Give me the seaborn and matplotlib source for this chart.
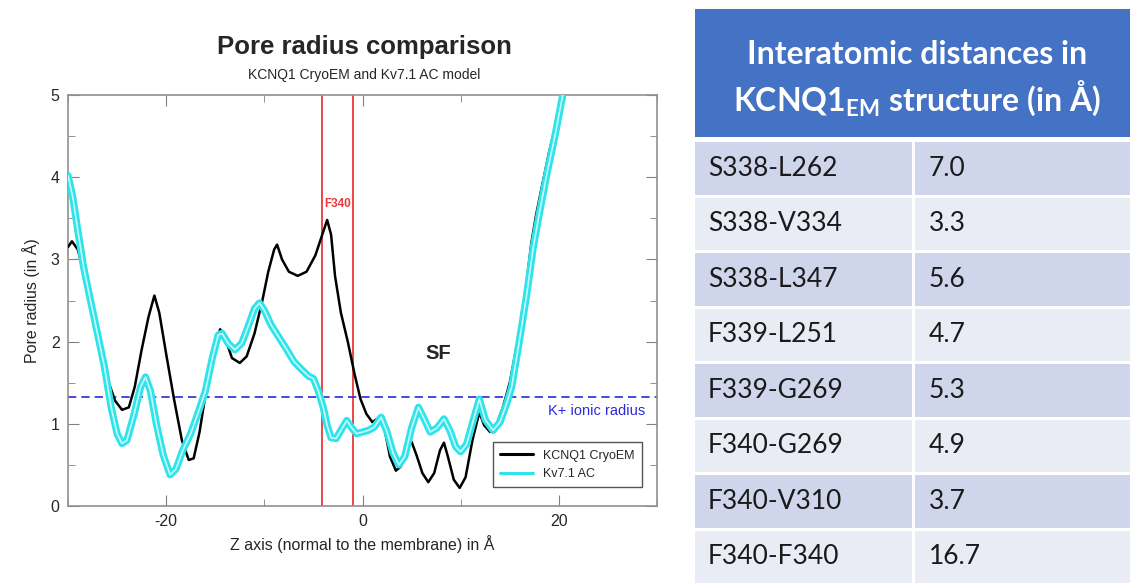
import pandas as pd
import seaborn as sns
import matplotlib.pyplot as plt
from matplotlib.lines import Line2D
from matplotlib.patches import Rectangle
from matplotlib.ticker import MultipleLocator

# pore radius profile (z in A, radius in A)
z_cryoem = [-30.0, -29.6, -29.0, -28.3, -27.6, -26.8, -26.0, -25.2, -24.5, -23.8,
            -23.2, -22.5, -21.8, -21.2, -20.7, -20.0, -19.2, -18.4, -17.7, -17.2,
            -16.6, -15.8, -15.0, -14.5, -14.0, -13.3, -12.5, -11.8, -11.0, -10.2,
            -9.6, -9.0, -8.7, -8.2, -7.5, -6.6, -5.7, -4.8, -4.1, -3.6,
            -3.2, -2.8, -2.2, -1.5, -0.8, -0.2, 0.4, 1.0, 1.5, 1.9,
            2.3, 2.8, 3.4, 3.9, 4.5, 5.0, 5.5, 6.1, 6.7, 7.3,
            7.9, 8.3, 8.7, 9.3, 9.9, 10.5, 11.2, 11.9, 12.4, 13.0,
            13.6, 14.3, 15.0, 15.8, 16.5, 17.2, 17.7, 18.3, 19.0, 19.7, 20.4]
r_cryoem = [3.15, 3.22, 3.12, 2.80, 2.45, 1.95, 1.55, 1.28, 1.17, 1.20,
            1.45, 1.90, 2.30, 2.56, 2.35, 1.85, 1.30, 0.80, 0.56, 0.58,
            0.90, 1.50, 1.95, 2.15, 2.05, 1.80, 1.74, 1.82, 2.10, 2.50,
            2.85, 3.12, 3.18, 3.00, 2.85, 2.80, 2.85, 3.05, 3.30, 3.48,
            3.30, 2.80, 2.35, 2.00, 1.60, 1.30, 1.12, 1.02, 1.06, 1.10,
            0.90, 0.60, 0.43, 0.48, 0.70, 0.78, 0.62, 0.40, 0.29, 0.40,
            0.68, 0.77, 0.60, 0.32, 0.22, 0.35, 0.80, 1.14, 0.98, 0.90,
            0.97, 1.20, 1.50, 2.00, 2.50, 3.20, 3.55, 3.90, 4.30, 4.65, 5.00]

z_ac = [-30.0, -29.5, -29.0, -28.4, -27.8, -27.0, -26.3, -25.6, -25.0, -24.5,
        -24.0, -23.3, -22.6, -22.1, -21.6, -21.0, -20.3, -19.6, -19.0, -18.3,
        -17.5, -16.7, -16.0, -15.3, -14.7, -14.3, -13.7, -13.0, -12.3, -11.6,
        -11.0, -10.5, -10.0, -9.3, -8.5, -7.7, -7.0, -6.2, -5.5, -5.0,
        -4.5, -4.0, -3.6, -3.2, -2.7, -2.2, -1.6, -1.1, -0.6, 0.0,
        0.6, 1.2, 1.9, 2.5, 3.1, 3.7, 4.3, 5.0, 5.7, 6.2,
        6.9, 7.6, 8.3, 8.9, 9.5, 10.0, 10.6, 11.3, 11.9, 12.5,
        13.3, 14.0, 14.7, 15.2, 15.9, 16.7, 17.4, 18.0, 18.8, 19.6, 20.4]
r_ac = [4.02, 3.75, 3.35, 2.90, 2.55, 2.10, 1.70, 1.20, 0.88, 0.76,
        0.80, 1.10, 1.45, 1.57, 1.40, 1.00, 0.62, 0.38, 0.45, 0.68,
        0.88, 1.15, 1.40, 1.80, 2.08, 2.10, 1.98, 1.90, 1.98, 2.20,
        2.40, 2.47, 2.38, 2.20, 2.05, 1.90, 1.76, 1.66, 1.58, 1.55,
        1.40, 1.20, 0.98, 0.83, 0.82, 0.92, 1.04, 0.95, 0.88, 0.90,
        0.92, 0.96, 1.08, 0.90, 0.65, 0.50, 0.60, 0.95, 1.20, 1.08,
        0.90, 0.95, 1.06, 0.92, 0.72, 0.66, 0.75, 1.05, 1.30, 1.05,
        0.92, 1.02, 1.25, 1.45, 1.95, 2.55, 3.15, 3.55, 4.05, 4.50, 5.00]

k_ionic_radius = 1.33
f340_z = [-4.1, -1.0]

pairs = ['S338-L262', 'S338-V334', 'S338-L347', 'F339-L251',
         'F339-G269', 'F340-G269', 'F340-V310', 'F340-F340']
distances = ['7.0', '3.3', '5.6', '4.7', '5.3', '4.9', '3.7', '16.7']

sns.set_style("ticks")
plt.rcParams['font.family'] = ['Liberation Sans', 'DejaVu Sans']
plt.rcParams['mathtext.default'] = 'regular'
plt.rcParams['axes.unicode_minus'] = False

fig = plt.figure(figsize=(11.3, 5.84), dpi=100)
ax = fig.add_axes([68 / 1130, 78 / 584, 589 / 1130, 411 / 584])

em = pd.DataFrame({'z': z_cryoem, 'r': r_cryoem})
ac = pd.DataFrame({'z': z_ac, 'r': r_ac})

sns.lineplot(x='z', y='r', data=em, ax=ax, color='black', lw=1.8,
             sort=False, estimator=None, zorder=3, solid_joinstyle='round')
sns.lineplot(x='z', y='r', data=ac, ax=ax, color='#2ee3ea', lw=5.2,
             sort=False, estimator=None, zorder=4, solid_joinstyle='round')
# the AC trace is a double line with a pale centre
sns.lineplot(x='z', y='r', data=ac, ax=ax, color='#c8fbfc', lw=1.2,
             sort=False, estimator=None, zorder=5, solid_joinstyle='round')

for z in f340_z:
    ax.axvline(z, color='#e8393c', lw=1.3, zorder=2)
ax.axhline(k_ionic_radius, color='#2b2bd8', ls=(0, (5, 3)), lw=1.2, zorder=2)

ax.text(-2.55, 3.68, 'F340', color='#e8393c', fontsize=8.5, fontweight='bold',
        ha='center', va='center')
ax.text(7.7, 1.85, 'SF', fontsize=14.5, fontweight='bold', ha='center', va='center')
ax.text(23.8, 1.16, 'K+ ionic radius', color='#2b2bd8', fontsize=10.5,
        ha='center', va='center')

ax.set_xlim(-30, 30)
ax.set_ylim(0, 5)
ax.xaxis.set_major_locator(MultipleLocator(20))
ax.xaxis.set_minor_locator(MultipleLocator(10))
ax.yaxis.set_major_locator(MultipleLocator(1))
ax.yaxis.set_minor_locator(MultipleLocator(0.5))
ax.tick_params(which='both', direction='in', top=True, right=True,
               color='#808080', labelsize=11.5, pad=6)
ax.tick_params(which='major', length=8)
ax.tick_params(which='minor', length=5)
for s in ax.spines.values():
    s.set_color('#909090')
    s.set_linewidth(1.2)
ax.set_xlabel('Z axis (normal to the membrane) in Å', fontsize=11.5, labelpad=4)
ax.set_ylabel('Pore radius (in Å)', fontsize=11.5, labelpad=8)

handles = [Line2D([], [], color='black', lw=2.2),
           Line2D([], [], color='#2ee3ea', lw=2.2)]
leg = ax.legend(handles, ['KCNQ1 CryoEM', 'Kv7.1 AC'], loc='lower right',
                bbox_to_anchor=(0.985, 0.03), fontsize=9, frameon=True,
                fancybox=False, framealpha=1, borderpad=0.6, handlelength=2.6)
leg.get_frame().set_edgecolor('#555555')
leg.get_frame().set_linewidth(1.0)

fig.text(364 / 1130, 1 - 47 / 584, 'Pore radius comparison', ha='center',
         va='center', fontsize=18.5, fontweight='bold')
fig.text(364 / 1130, 1 - 75 / 584, 'KCNQ1 CryoEM and Kv7.1 AC model',
         ha='center', va='center', fontsize=10)

# distance table on the right, laid out in pixel units
tax = fig.add_axes([690 / 1130, 0, 440 / 1130, 1])
tax.set_xlim(690, 1130)
tax.set_ylim(584, 0)
tax.axis('off')
tfont = ['Lato', 'DejaVu Sans']

tax.add_patch(Rectangle((695, 9), 435, 128, color='#4472c4', lw=0))
tax.text(917, 54, 'Interatomic distances in', color='white', fontsize=23,
         fontweight='bold', ha='center', va='center', family=tfont)
tax.text(917, 98, r'KCNQ1$_{EM}$ structure (in Å)', color='white', fontsize=23,
         fontweight='bold', ha='center', va='center', family=tfont)

row_h = 55.5
for i, (p, d) in enumerate(zip(pairs, distances)):
    top = 142 + i * row_h
    fill = '#cfd5ea' if i % 2 == 0 else '#e9ebf5'
    tax.add_patch(Rectangle((695, top), 217, row_h - 3, color=fill, lw=0))
    tax.add_patch(Rectangle((915, top), 215, row_h - 3, color=fill, lw=0))
    cy = top + (row_h - 3) / 2
    tax.text(708, cy, p, fontsize=19, ha='left', va='center', color='#1a1a1a',
             family=tfont)
    tax.text(929, cy, d, fontsize=19, ha='left', va='center', color='#1a1a1a',
             family=tfont)

fig.savefig('out.png', dpi=100)
